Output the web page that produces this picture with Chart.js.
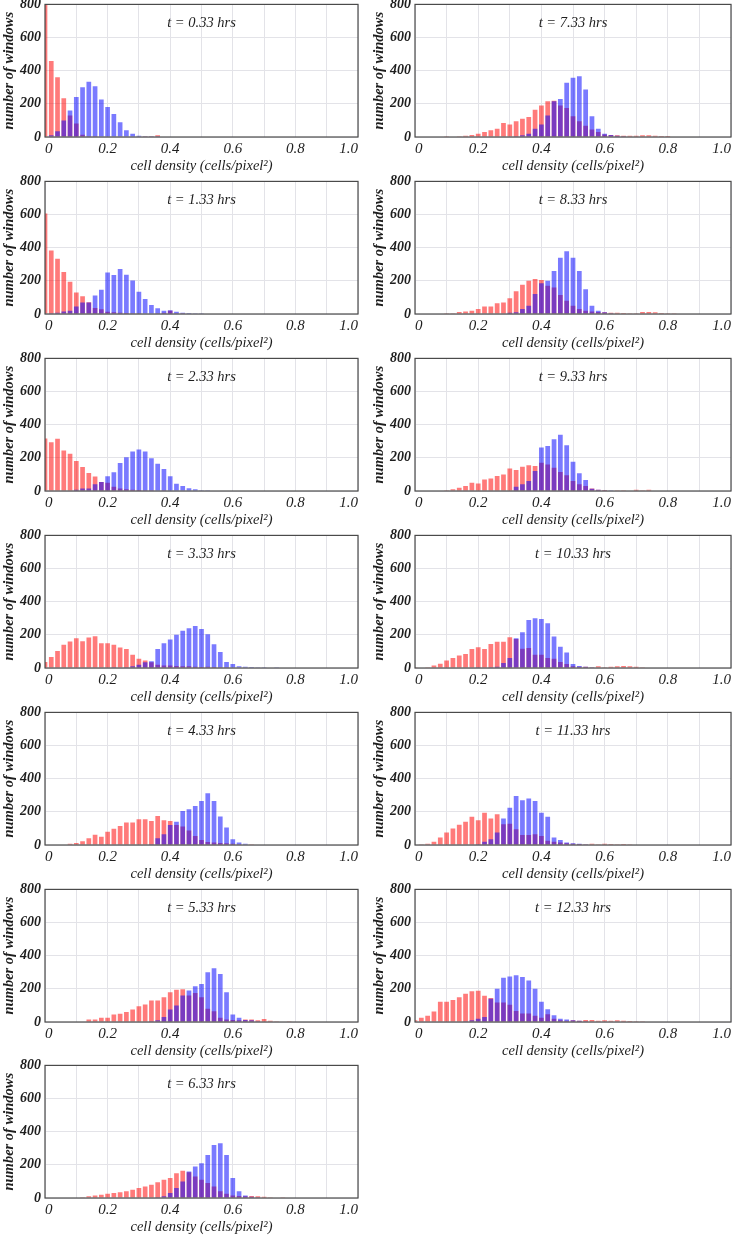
<!DOCTYPE html>
<html>
<head>
<meta charset="utf-8">
<script src="https://cdn.jsdelivr.net/npm/chart.js@4/dist/chart.umd.min.js"></script>
<style>
  html, body { margin: 0; padding: 0; background: #fff; }
  body { width: 739px; height: 1237px; overflow: hidden; position: relative; }
  .panel { position: absolute; }
</style>
</head>
<body>
<div id="grid"></div>
<script>
// bin centres (cells/pixel^2), one bar per bin
const bins = [0, 0.02, 0.04, 0.06, 0.08, 0.10, 0.12, 0.14, 0.16, 0.18,
  0.20, 0.22, 0.24, 0.26, 0.28, 0.30, 0.32, 0.34, 0.36, 0.38,
  0.40, 0.42, 0.44, 0.46, 0.48, 0.50, 0.52, 0.54, 0.56, 0.58,
  0.60, 0.62, 0.64, 0.66, 0.68, 0.70, 0.72, 0.74, 0.76, 0.78,
  0.80, 0.82, 0.84, 0.86, 0.88, 0.90, 0.92, 0.94, 0.96, 0.98, 1.00];

const times = ['0.33', '1.33', '2.33', '3.33', '4.33', '5.33', '6.33',
  '7.33', '8.33', '9.33', '10.33', '11.33', '12.33'];

// red series (number of windows per bin)
const red033 = [850,458,361,234,129,81,14,4,2,0, 0,0,0,0,0,0,2,4,10,3, 0,0,0,0,0,0,0,0,0,0, 0,0,0,0,0,0,0,0,0,0, 0,0,0,0,0,0,0,0,0,0, 0];
const red133 = [607,383,334,253,194,130,107,71,36,28, 14,10,8,6,5,4,3,3,5,8, 20,4,2,0,0,0,0,0,0,0, 0,0,0,0,0,0,0,0,0,0, 0,0,0,0,0,0,0,0,0,0, 0];
const red233 = [317,294,315,244,224,181,145,109,87,55, 50,25,15,10,8,6,5,4,3,2, 0,0,0,0,0,0,0,0,0,0, 0,0,0,0,0,0,0,0,0,0, 0,0,0,0,0,0,0,0,0,0, 0];
const red333 = [36,66,102,140,160,180,162,184,192,150, 150,140,124,114,80,56,45,35,20,15, 15,12,10,10,8,6,8,6,4,2, 0,0,0,0,0,0,0,0,0,0, 0,0,0,0,0,0,0,0,0,0, 0];
const red433 = [0,0,0,0,8,12,22,40,62,50, 80,98,115,135,135,155,155,145,175,150, 145,120,112,88,55,30,18,15,12,10, 8,5,3,2,0,0,0,0,0,0, 0,0,0,0,0,0,0,0,0,0, 0];
const red533 = [0,0,0,0,0,0,3,15,15,25, 25,45,50,60,75,95,105,130,130,150, 180,195,198,160,175,150,80,65,25,15, 12,10,15,15,10,18,8,5,3,2, 0,0,0,0,0,0,0,0,0,0, 0];
const red633 = [0,0,0,0,0,3,5,10,15,20, 25,30,35,40,50,60,70,80,95,110, 120,150,165,155,130,110,90,70,40,25, 15,12,10,12,10,8,5,3,2,0, 0,0,0,0,0,0,0,0,0,0, 0];
const red733 = [0,0,0,0,0,2,3,5,8,12, 20,30,40,50,85,75,95,110,120,165, 190,215,218,190,175,125,95,68,45,30, 15,12,10,8,8,8,10,10,8,6, 6,3,0,0,0,0,0,0,0,0, 0];
const red833 = [0,0,0,0,0,5,2,12,15,20, 30,45,45,65,70,95,137,177,200,211, 205,170,160,115,80,50,30,20,15,12, 10,8,8,6,5,5,12,12,10,6, 4,2,0,0,0,0,0,0,0,0, 0];
const red933 = [0,0,0,0,0,5,10,20,30,50, 45,70,75,90,100,135,127,147,155,151, 171,160,140,115,95,60,40,30,15,8, 6,3,2,2,3,8,5,8,3,0, 0,0,0,0,0,0,0,0,0,0, 0];
const red1033 = [2,3,5,15,25,45,60,75,85,115, 125,115,145,158,158,186,175,116,120,80, 80,60,56,36,24,10,8,8,5,10, 5,8,10,12,10,8,5,3,0,0, 0,0,0,0,0,0,0,0,0,0, 0];
const red1133 = [0,5,8,20,45,75,100,122,140,170, 150,195,160,185,125,128,95,60,60,65, 55,25,20,15,10,8,6,5,8,5, 8,6,5,6,4,3,3,0,0,0, 0,0,0,0,0,0,0,0,0,0, 0];
const red1233 = [10,26,37,63,122,122,132,149,170,185, 189,159,145,118,118,104,67,51,51,37, 26,47,20,10,8,10,8,12,12,8, 10,8,10,8,6,5,4,3,0,0, 0,0,0,0,0,0,0,0,0,0, 0];

// blue series (number of windows per bin)
const blue033 = [0,10,35,100,160,242,300,333,306,226, 181,139,89,40,20,8,4,2,1,0, 0,0,0,0,0,0,0,0,0,0, 0,0,0,0,0,0,0,0,0,0, 0,0,0,0,0,0,0,0,0,0, 0];
const blue133 = [0,2,8,15,20,45,70,70,111,146, 251,235,271,237,202,134,91,55,34,20, 22,14,8,6,5,4,0,0,0,0, 0,0,0,0,0,0,0,0,0,0, 0,0,0,0,0,0,0,0,0,0, 0];
const blue233 = [0,0,0,0,0,8,15,15,40,55, 89,113,169,204,238,250,238,198,165,133, 89,44,30,16,10,4,2,0,0,0, 0,0,0,0,0,0,0,0,0,0, 0,0,0,0,0,0,0,0,0,0, 0];
const blue333 = [0,0,0,0,0,0,0,0,0,0, 0,2,3,5,10,20,35,40,114,150, 172,200,224,240,254,236,204,144,96,36, 24,10,8,6,5,4,3,2,0,0, 0,0,0,0,0,0,0,0,0,0, 0];
const blue433 = [0,0,0,0,0,0,0,0,0,0, 0,0,0,0,0,0,0,5,40,65, 120,140,205,215,235,265,312,265,172,105, 35,15,8,3,0,0,0,0,0,0, 0,0,0,0,0,0,0,0,0,0, 0];
const blue533 = [0,0,0,0,0,0,0,0,0,0, 0,0,0,0,0,0,0,5,10,30, 75,100,160,190,215,230,300,325,290,180, 45,25,12,10,5,3,0,0,0,0, 0,0,0,0,0,0,0,0,0,0, 0];
const blue633 = [0,0,0,0,0,0,0,0,0,0, 0,0,0,0,0,0,0,0,5,10, 30,60,100,160,190,210,260,320,330,260, 120,40,15,8,5,3,0,0,0,0, 0,0,0,0,0,0,0,0,0,0, 0];
const blue733 = [0,0,0,0,0,0,0,0,0,0, 0,0,0,0,0,0,5,10,20,50, 75,130,215,230,327,357,367,286,125,50, 20,12,8,5,0,0,0,0,0,0, 0,0,0,0,0,0,0,0,0,0, 0];
const blue833 = [0,0,0,0,0,0,0,0,0,0, 0,0,0,0,3,8,10,30,50,120, 185,200,260,340,378,340,260,150,50,20, 10,5,3,0,0,0,0,0,0,0, 0,0,0,0,0,0,0,0,0,0, 0];
const blue933 = [0,0,0,0,0,0,0,0,0,0, 0,0,0,0,0,3,25,40,60,121, 262,272,312,339,276,177,107,66,14,8, 4,2,0,0,0,0,0,0,0,0, 0,0,0,0,0,0,0,0,0,0, 0];
const blue1033 = [0,0,0,0,0,0,0,0,0,0, 2,3,5,8,30,60,180,216,290,300, 296,270,190,128,94,24,12,8,4,0, 0,0,0,0,0,0,0,0,0,0, 0,0,0,0,0,0,0,0,0,0, 0];
const blue1133 = [0,0,0,0,0,0,0,0,0,3, 5,20,35,75,160,225,295,270,280,265, 195,170,45,30,15,10,8,5,0,0, 0,0,0,0,0,0,0,0,0,0, 0,0,0,0,0,0,0,0,0,0, 0];
const blue1233 = [0,0,0,0,0,0,0,0,5,10, 20,30,140,200,267,275,282,272,250,200, 122,77,40,20,15,10,8,5,3,0, 0,0,0,0,0,0,0,0,0,0, 0,0,0,0,0,0,0,0,0,0, 0];

const redSeries = [red033, red133, red233, red333, red433, red533, red633,
  red733, red833, red933, red1033, red1133, red1233];
const blueSeries = [blue033, blue133, blue233, blue333, blue433, blue533, blue633,
  blue733, blue833, blue933, blue1033, blue1133, blue1233];

const serif = '"Liberation Serif", "DejaVu Serif", "Times New Roman", serif';
const textColor = '#1e1e1e';
const gridColor = '#e3e3e8';

// draws the closed frame and the "t = ... hrs" label inside the plot
const frameAndTitle = {
  id: 'frameAndTitle',
  afterDatasetsDraw(chart, args, opts) {
    const ctx = chart.ctx;
    const a = chart.chartArea;
    ctx.save();
    ctx.strokeStyle = '#4a4a4a';
    ctx.lineWidth = 1.2;
    ctx.strokeRect(a.left, a.top, a.right - a.left, a.bottom - a.top);
    ctx.fillStyle = textColor;
    ctx.font = 'italic 14.5px ' + serif;
    ctx.textAlign = 'center';
    ctx.textBaseline = 'middle';
    ctx.fillText(opts.text, (a.left + a.right) / 2, a.top + 19);
    ctx.restore();
  }
};

// plot-area tops of the seven rows
const rowTops = [2, 179, 356, 533, 710, 887, 1063];

function drawPanel(i) {
  const col = i < 7 ? 0 : 1;
  const row = col === 0 ? i : i - 7;
  const width = col === 0 ? 370 : 369;
  const rightPad = col === 0 ? 12 : 8;

  const holder = document.createElement('div');
  holder.className = 'panel';
  holder.style.left = (col === 0 ? 0 : 370) + 'px';
  holder.style.top = (rowTops[row] - 10) + 'px';
  const canvas = document.createElement('canvas');
  canvas.width = width;
  canvas.height = 185;
  holder.appendChild(canvas);
  document.getElementById('grid').appendChild(holder);

  const blue = blueSeries[i];
  const red = redSeries[i];

  new Chart(canvas, {
    type: 'bar',
    data: {
      datasets: [
        {
          label: 'blue',
          data: bins.map((b, k) => ({ x: b, y: blue[k] })),
          backgroundColor: 'rgba(0, 0, 255, 0.52)',
          borderWidth: 0,
          grouped: false,
          barPercentage: 0.75,
          categoryPercentage: 1
        },
        {
          label: 'red',
          data: bins.map((b, k) => ({ x: b, y: red[k] })),
          backgroundColor: 'rgba(255, 0, 0, 0.52)',
          borderWidth: 0,
          grouped: false,
          barPercentage: 0.75,
          categoryPercentage: 1
        }
      ]
    },
    options: {
      responsive: false,
      animation: false,
      devicePixelRatio: 1,
      layout: { padding: { top: 10, right: rightPad, left: 0, bottom: 0 } },
      plugins: {
        legend: { display: false },
        tooltip: { enabled: false },
        frameAndTitle: { text: 't = ' + times[i] + ' hrs' }
      },
      scales: {
        x: {
          type: 'linear',
          min: 0,
          max: 1,
          offset: false,
          grid: { color: gridColor, offset: false, drawTicks: false },
          border: { display: false },
          ticks: {
            stepSize: 0.1,
            autoSkip: false,
            maxRotation: 0,
            align: 'inner',
            padding: 3,
            color: textColor,
            font: { family: serif, style: 'italic', size: 15 },
            callback: (v) => {
              const n = Math.round(v * 10);
              if (n % 2) return '';
              return n === 0 ? '0' : (n / 10).toFixed(1);
            }
          },
          title: {
            display: true,
            text: 'cell density (cells/pixel\u00B2)',
            color: textColor,
            font: { family: serif, style: 'italic', size: 14.5 },
            padding: { top: 0, bottom: 2 }
          },
          afterFit: (scale) => { scale.height = 40; }
        },
        y: {
          min: 0,
          max: 800,
          grid: { color: gridColor, drawTicks: false },
          border: { display: false },
          ticks: {
            stepSize: 100,
            padding: 4,
            color: textColor,
            font: { family: serif, style: 'italic', weight: 'bold', size: 14 },
            callback: (v) => (v % 200 === 0 ? String(v) : '')
          },
          title: {
            display: true,
            text: 'number of windows',
            color: textColor,
            font: { family: serif, style: 'italic', weight: 'bold', size: 14.5 },
            padding: { top: 1, bottom: 0 }
          },
          afterFit: (scale) => { scale.width = 45; }
        }
      }
    },
    plugins: [frameAndTitle]
  });
}

for (let i = 0; i < times.length; i++) {
  drawPanel(i);
}
</script>
</body>
</html>
